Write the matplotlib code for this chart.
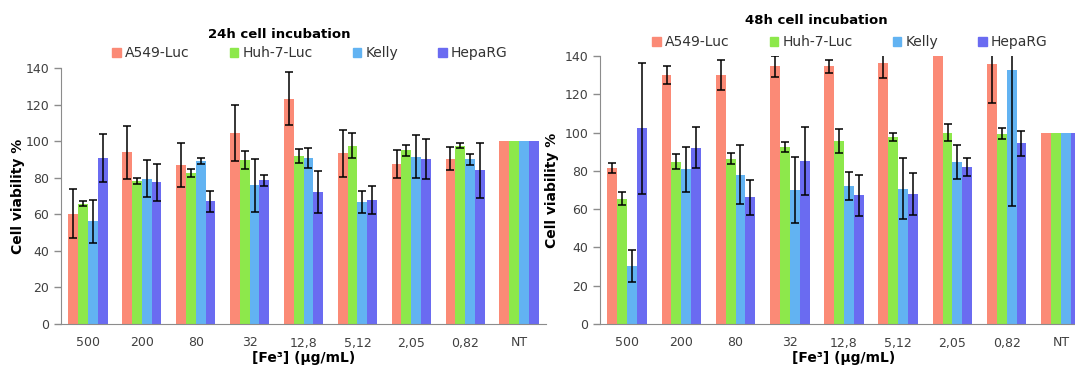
import numpy as np
import matplotlib
matplotlib.use("Agg")
import matplotlib.pyplot as plt
from matplotlib.patches import Patch

# Concentrations on the x axis
conc = ['500', '200', '80', '32', '12,8', '5,12', '2,05', '0,82', 'NT']
cells = ['A549-Luc', 'Huh-7-Luc', 'Kelly', 'HepaRG']
colors = ['#FB8A76', '#8DE84B', '#62B3F2', '#6A6BF1']

# 24h incubation (mean, error)
a549_24 = [60.4, 94.0, 87.1, 104.4, 123.3, 93.3, 87.6, 90.4, 100]
a549_24_err = [13.4, 14.5, 12.1, 15.2, 14.5, 13.0, 7.5, 6.4, 0]
huh_24 = [65.8, 78.2, 82.7, 89.8, 92.0, 97.5, 94.9, 97.6, 100]
huh_24_err = [1.3, 1.5, 2.3, 5.0, 3.9, 6.8, 3.1, 1.5, 0]
kelly_24 = [56.2, 79.5, 89.1, 75.8, 90.9, 66.7, 91.6, 90.0, 100]
kelly_24_err = [11.7, 10.0, 1.7, 14.4, 5.6, 6.2, 11.5, 3.2, 0]
hepa_24 = [90.9, 77.5, 67.1, 78.5, 72.2, 67.6, 90.0, 84.0, 100]
hepa_24_err = [13.0, 10.0, 5.7, 3.2, 11.7, 7.6, 10.9, 15.0, 0]

# 48h incubation (mean, error)
a549_48 = [81.5, 130.3, 130.0, 134.7, 134.7, 136.6, 146.0, 135.7, 100]
a549_48_err = [2.5, 4.7, 7.7, 5.5, 3.4, 7.9, 5.0, 20.0, 0]
huh_48 = [65.5, 84.7, 86.4, 92.5, 95.5, 97.7, 100.0, 99.5, 100]
huh_48_err = [3.3, 3.9, 2.8, 2.5, 6.3, 2.1, 4.3, 3.1, 0]
kelly_48 = [30.3, 80.8, 78.0, 69.9, 72.0, 70.7, 84.7, 132.9, 100]
kelly_48_err = [8.2, 11.8, 15.5, 17.2, 7.4, 15.8, 9.0, 71.4, 0]
hepa_48 = [102.3, 92.0, 66.2, 85.0, 67.2, 67.9, 81.9, 94.3, 100]
hepa_48_err = [34.2, 10.7, 9.1, 17.7, 10.6, 11.2, 4.7, 6.5, 0]

W, H = 1075, 370


def draw_panel(ax, series, errors):
    """
    Grouped bars with error bars, Excel look
    """
    x = np.arange(len(conc))
    bw = 0.182
    for i, (vals, err) in enumerate(zip(series, errors)):
        pos = x + (i - 1.5) * bw
        ax.bar(pos, vals, bw, color=colors[i], zorder=2)
        vals = np.array(vals)
        err = np.array(err)
        m = err > 0
        ax.errorbar(pos[m], vals[m], yerr=err[m], fmt='none', ecolor='black',
                    elinewidth=1.1, capsize=3, capthick=1.1, zorder=3)

    ax.set_xlim(-0.5, len(conc) - 0.5)
    ax.set_ylim(0, 140)
    ax.set_yticks(range(0, 141, 20))
    ax.set_xticks(x)
    ax.set_xticklabels(conc)
    ax.tick_params(axis='x', length=0, pad=9, labelsize=9, labelcolor='#404040')
    ax.tick_params(axis='y', length=5, width=1, color='#8c8c8c', labelsize=9,
                   labelcolor='#404040')
    for s in ['top', 'right']:
        ax.spines[s].set_visible(False)
    for s in ['left', 'bottom']:
        ax.spines[s].set_color('#8c8c8c')
    ax.set_ylabel('Cell viability %', fontsize=10, fontweight='bold')
    ax.set_xlabel('[Fe³] (µg/mL)', fontsize=10, fontweight='bold', labelpad=1)


fig = plt.figure(figsize=(W / 100, H / 100), dpi=100)

ax1 = fig.add_axes([61 / W, 46 / H, 485 / W, 256 / H])
draw_panel(ax1, [a549_24, huh_24, kelly_24, hepa_24],
           [a549_24_err, huh_24_err, kelly_24_err, hepa_24_err])
ax1.yaxis.set_label_coords(-0.075, 0.5)

ax2 = fig.add_axes([600 / W, 46 / H, 488 / W, 268 / H])
draw_panel(ax2, [a549_48, huh_48, kelly_48, hepa_48],
           [a549_48_err, huh_48_err, kelly_48_err, hepa_48_err])
ax2.yaxis.set_label_coords(-0.085, 0.5)

# Titles and legends placed like the original figure
handles = [Patch(color=c, label=l) for c, l in zip(colors, cells)]
fig.text(279 / W, 1 - 35 / H, '24h cell incubation', ha='center', va='center',
         fontsize=9.5, fontweight='bold')
fig.text(816 / W, 1 - 21 / H, '48h cell incubation', ha='center', va='center',
         fontsize=9.5, fontweight='bold')
for cx, cy in [(310, 53), (850, 42)]:
    fig.legend(handles=handles, loc='center', bbox_to_anchor=(cx / W, 1 - cy / H),
               ncol=4, frameon=False, fontsize=10, handlelength=0.6,
               handleheight=0.6, handletextpad=0.3, columnspacing=2.9,
               borderpad=0, labelcolor='#333333')

fig.savefig('out.png', dpi=100)
